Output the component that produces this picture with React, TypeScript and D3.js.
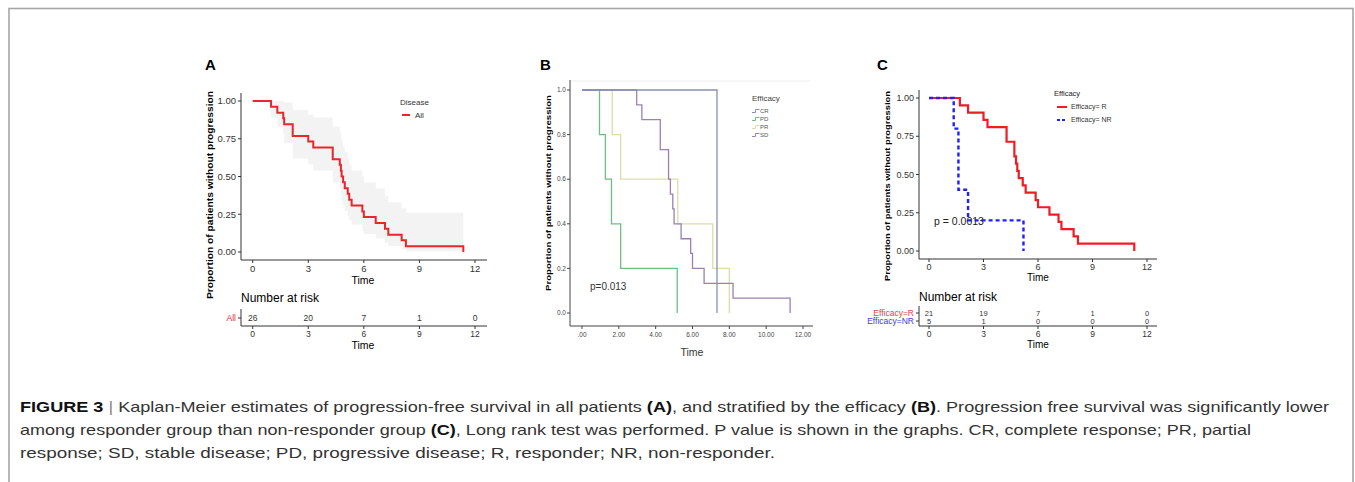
import * as d3 from "d3";

// x ticks shared by panels A and C
const timeTicks = [0, 3, 6, 9, 12];
const propTicks = [0, 0.25, 0.5, 0.75, 1];
const propLabels = ["0.00", "0.25", "0.50", "0.75", "1.00"];

// Panel A: all patients
const allTimes = [0, 0.99, 1.33, 1.65, 1.7, 2.16, 3.0, 3.27, 4.32, 4.7, 4.76, 4.8, 4.88, 4.97, 5.13, 5.21, 5.34, 5.92, 6.0, 6.64, 7.14, 7.32, 8.04, 8.27, 11.37];
const allSurv = [1, 0.962, 0.923, 0.885, 0.846, 0.769, 0.731, 0.692, 0.615, 0.577, 0.538, 0.5, 0.462, 0.423, 0.385, 0.346, 0.308, 0.269, 0.231, 0.192, 0.154, 0.115, 0.077, 0.038, 0];
const allUpper = [1, 1, 1, 1, 0.99, 0.94, 0.91, 0.89, 0.83, 0.8, 0.77, 0.73, 0.7, 0.66, 0.62, 0.58, 0.54, 0.5, 0.46, 0.42, 0.37, 0.33, 0.29, 0.26];
const allLower = [1, 0.89, 0.83, 0.78, 0.72, 0.62, 0.58, 0.54, 0.46, 0.42, 0.38, 0.34, 0.31, 0.27, 0.24, 0.21, 0.18, 0.14, 0.12, 0.09, 0.06, 0.04, 0.02, 0.005];
const allRisk = [26, 20, 7, 1, 0];

// Panel B: by efficacy
const bTicks = [0, 2, 4, 6, 8, 10, 12];
const bTickLabels = [".00", "2.00", "4.00", "6.00", "8.00", "10.00", "12.00"];
const bYTicks = [0, 0.2, 0.4, 0.6, 0.8, 1];
const bYLabels = ["0.0", "0.2", "0.4", "0.6", "0.8", "1.0"];
const crTimes = [0, 7.33];
const crSurv = [1, 0];
const pdTimes = [0, 0.95, 1.27, 1.6, 2.1, 5.17];
const pdSurv = [1, 0.8, 0.6, 0.4, 0.2, 0];
const prTimes = [0, 1.64, 2.1, 5.2, 7.1, 8.0];
const prSurv = [1, 0.8, 0.6, 0.4, 0.2, 0];
const sdTimes = [0, 2.97, 3.25, 4.25, 4.7, 4.8, 4.93, 5.0, 5.38, 5.9, 6.0, 6.63, 8.2, 11.3];
const sdSurv = [1, 0.933, 0.867, 0.733, 0.6, 0.533, 0.467, 0.4, 0.333, 0.267, 0.2, 0.133, 0.067, 0];
const bLegend = ["CR", "PD", "PR", "SD"];

// Panel C: responder vs non-responder
const rTimes = [0, 1.7, 2.15, 3.0, 3.22, 4.27, 4.7, 4.79, 4.86, 4.94, 5.16, 5.32, 5.87, 6.0, 6.63, 7.13, 7.29, 7.96, 8.2, 11.3];
const rSurv = [1, 0.952, 0.905, 0.857, 0.81, 0.714, 0.619, 0.571, 0.524, 0.476, 0.429, 0.381, 0.333, 0.286, 0.238, 0.19, 0.143, 0.095, 0.048, 0];
const nrTimes = [0, 1.36, 1.62, 2.15, 5.2];
const nrSurv = [1, 0.8, 0.4, 0.2, 0];
const rRisk = [21, 19, 7, 1, 0];
const nrRisk = [5, 1, 0, 0, 0];

const Y_TITLE = "Proportion of patients without progression";
const SANS = "'Liberation Sans', Arial, sans-serif";
const AXIS = "#333";

function stepPath(x: d3.ScaleLinear<number, number>, y: d3.ScaleLinear<number, number>, times: number[], surv: number[]) {
    return (
        d3
            .line<number>()
            .x((d) => x(d))
            .y((_, i) => y(surv[i]))
            .curve(d3.curveStepAfter)(times) ?? ""
    );
}

function PanelA() {
    const x = d3.scaleLinear().domain([0, 12]).range([252.7, 475]);
    const y = d3.scaleLinear().domain([0, 1]).range([252, 101]);
    const bandT = [...allTimes.slice(0, -1), allTimes[allTimes.length - 1]];
    const bandIdx = bandT.map((_, i) => Math.min(i, allUpper.length - 1));
    const band =
        d3
            .area<number>()
            .x((i) => x(bandT[i]))
            .y0((i) => y(allLower[bandIdx[i]]))
            .y1((i) => y(allUpper[bandIdx[i]]))
            .curve(d3.curveStepAfter)(bandT.map((_, i) => i)) ?? "";
    return (
        <g fontFamily={SANS}>
            <text x={205} y={70} fontSize={15} fontWeight="bold">A</text>
            <path d={band} fill="#f3f3f3" />
            <path d={stepPath(x, y, allTimes, allSurv)} fill="none" stroke="#e8262d" strokeWidth={2} />
            {/* axes */}
            <line x1={241} x2={241} y1={93} y2={260} stroke={AXIS} strokeWidth={1} />
            <line x1={241} x2={487} y1={260} y2={260} stroke={AXIS} strokeWidth={1} />
            {propTicks.map((v, i) => (
                <g key={v}>
                    <line x1={238} x2={241} y1={y(v)} y2={y(v)} stroke={AXIS} />
                    <text x={236} y={y(v)} dy="0.35em" textAnchor="end" fontSize={9.5} fill="#333">{propLabels[i]}</text>
                </g>
            ))}
            {timeTicks.map((t) => (
                <g key={t}>
                    <line x1={x(t)} x2={x(t)} y1={260} y2={263} stroke={AXIS} />
                    <text x={x(t)} y={272} textAnchor="middle" fontSize={9.5} fill="#333">{t}</text>
                </g>
            ))}
            <text x={363} y={284} textAnchor="middle" fontSize={10.5}>Time</text>
            <text transform="translate(213,195) rotate(-90)" textAnchor="middle" fontSize={8.5} fontWeight="bold" textLength={208} lengthAdjust="spacingAndGlyphs">{Y_TITLE}</text>
            {/* legend */}
            <text x={400} y={105} fontSize={8} fill="#333">Disease</text>
            <line x1={402} x2={410} y1={115} y2={115} stroke="#e8262d" strokeWidth={2} />
            <text x={415} y={115} dy="0.35em" fontSize={8} fill="#333">All</text>
            {/* risk table */}
            <text x={241} y={302} fontSize={12}>Number at risk</text>
            <line x1={241} x2={241} y1={309} y2={326} stroke={AXIS} />
            <line x1={238} x2={241} y1={318} y2={318} stroke={AXIS} />
            <text x={236} y={318} dy="0.35em" textAnchor="end" fontSize={8.5} fill="#e8262d">All</text>
            <line x1={241} x2={487} y1={326} y2={326} stroke={AXIS} />
            {timeTicks.map((t, i) => (
                <g key={t}>
                    <text x={x(t)} y={318} dy="0.35em" textAnchor="middle" fontSize={8.5} fill="#333">{allRisk[i]}</text>
                    <line x1={x(t)} x2={x(t)} y1={326} y2={329} stroke={AXIS} />
                    <text x={x(t)} y={337} textAnchor="middle" fontSize={8.5} fill="#333">{t}</text>
                </g>
            ))}
            <text x={363} y={349} textAnchor="middle" fontSize={10.5}>Time</text>
        </g>
    );
}

const bColors: Record<string, string> = { CR: "#8790b2", PD: "#6cbf84", PR: "#dcdea6", SD: "#9b80b6" };

function PanelB() {
    const x = d3.scaleLinear().domain([0, 12]).range([582, 803]);
    const y = d3.scaleLinear().domain([0, 1]).range([313, 90]);
    const series: [string, number[], number[]][] = [
        ["PR", prTimes, prSurv],
        ["PD", pdTimes, pdSurv],
        ["SD", sdTimes, sdSurv],
        ["CR", crTimes, crSurv],
    ];
    return (
        <g fontFamily={SANS}>
            <text x={540} y={70} fontSize={15} fontWeight="bold">B</text>
            <line x1={570} x2={810} y1={81} y2={81} stroke="#eeeeee" />
            {series.map(([k, t, s]) => (
                <path key={k} d={stepPath(x, y, t, s)} fill="none" stroke={bColors[k]} strokeWidth={1.3} />
            ))}
            <line x1={570} x2={570} y1={80} y2={326} stroke="#444" />
            <line x1={570} x2={813} y1={326} y2={326} stroke="#444" />
            {bYTicks.map((v, i) => (
                <g key={v}>
                    <line x1={567} x2={570} y1={y(v)} y2={y(v)} stroke="#444" />
                    <text x={566} y={y(v)} dy="0.35em" textAnchor="end" fontSize={6.5} fill="#444">{bYLabels[i]}</text>
                </g>
            ))}
            {bTicks.map((t, i) => (
                <g key={t}>
                    <line x1={x(t)} x2={x(t)} y1={326} y2={329} stroke="#444" />
                    <text x={x(t)} y={337} textAnchor="middle" fontSize={6.5} fill="#444">{bTickLabels[i]}</text>
                </g>
            ))}
            <text x={692} y={356} textAnchor="middle" fontSize={10.5} fill="#333">Time</text>
            <text transform="translate(551,193) rotate(-90)" textAnchor="middle" fontSize={8} fontWeight="bold" textLength={196} lengthAdjust="spacingAndGlyphs">{Y_TITLE}</text>
            <text x={590} y={290} fontSize={10} fill="#333">p=0.013</text>
            <text x={752} y={101} fontSize={8} fill="#444">Efficacy</text>
            {bLegend.map((k, i) => (
                <g key={k} transform={`translate(752,${111 + i * 8})`}>
                    <path d="M0,1.5 h3.5 v-3 h4" fill="none" stroke={bColors[k]} strokeWidth={1} />
                    <text x={8} y={0} dy="0.35em" fontSize={6} fill="#555">{k}</text>
                </g>
            ))}
        </g>
    );
}

function PanelC() {
    const x = d3.scaleLinear().domain([0, 12]).range([929, 1147]);
    const y = d3.scaleLinear().domain([0, 1]).range([251, 98]);
    const red = "#ee1c25";
    const blue = "#1f1fff";
    return (
        <g fontFamily={SANS}>
            <text x={877} y={70} fontSize={15} fontWeight="bold">C</text>
            <path d={stepPath(x, y, rTimes, rSurv)} fill="none" stroke={red} strokeWidth={2.2} />
            <path d={stepPath(x, y, nrTimes, nrSurv)} fill="none" stroke={blue} strokeWidth={2.4} strokeDasharray="4,3" />
            <line x1={919} x2={919} y1={90} y2={259} stroke={AXIS} />
            <line x1={919} x2={1157} y1={259} y2={259} stroke={AXIS} />
            {propTicks.map((v, i) => (
                <g key={v}>
                    <line x1={916} x2={919} y1={y(v)} y2={y(v)} stroke={AXIS} />
                    <text x={914} y={y(v)} dy="0.35em" textAnchor="end" fontSize={9} fill="#333">{propLabels[i]}</text>
                </g>
            ))}
            {timeTicks.map((t) => (
                <g key={t}>
                    <line x1={x(t)} x2={x(t)} y1={259} y2={262} stroke={AXIS} />
                    <text x={x(t)} y={269.5} textAnchor="middle" fontSize={9} fill="#333">{t}</text>
                </g>
            ))}
            <text x={1038} y={281} textAnchor="middle" fontSize={10}>Time</text>
            <text transform="translate(890,186) rotate(-90)" textAnchor="middle" fontSize={8} fontWeight="bold" textLength={190} lengthAdjust="spacingAndGlyphs">{Y_TITLE}</text>
            <text x={934} y={225} fontSize={10.5} fill="#222">p = 0.0013</text>
            {/* legend */}
            <text x={1054} y={96} fontSize={7.5} fill="#222">Efficacy</text>
            <line x1={1057} x2={1067} y1={107} y2={107} stroke={red} strokeWidth={2} />
            <text x={1071} y={107} dy="0.35em" fontSize={7} fill="#333">Efficacy= R</text>
            <line x1={1057} x2={1067} y1={120} y2={120} stroke={blue} strokeWidth={2} strokeDasharray="3,2" />
            <text x={1071} y={120} dy="0.35em" fontSize={7} fill="#333">Efficacy= NR</text>
            {/* risk table */}
            <text x={919} y={301} fontSize={12}>Number at risk</text>
            <line x1={919} x2={919} y1={306} y2={326} stroke={AXIS} />
            <line x1={916} x2={919} y1={313} y2={313} stroke={AXIS} />
            <line x1={916} x2={919} y1={321} y2={321} stroke={AXIS} />
            <text x={914} y={313} dy="0.35em" textAnchor="end" fontSize={8.5} fill="#e0434b">Efficacy=R</text>
            <text x={914} y={321} dy="0.35em" textAnchor="end" fontSize={8.5} fill="#3c3cdc">Efficacy=NR</text>
            <line x1={919} x2={1157} y1={326} y2={326} stroke={AXIS} />
            {timeTicks.map((t, i) => (
                <g key={t}>
                    <text x={x(t)} y={313} dy="0.35em" textAnchor="middle" fontSize={7.5} fill="#333">{rRisk[i]}</text>
                    <text x={x(t)} y={321} dy="0.35em" textAnchor="middle" fontSize={7.5} fill="#333">{nrRisk[i]}</text>
                    <line x1={x(t)} x2={x(t)} y1={326} y2={329} stroke={AXIS} />
                    <text x={x(t)} y={336.5} textAnchor="middle" fontSize={8.5} fill="#333">{t}</text>
                </g>
            ))}
            <text x={1038} y={348} textAnchor="middle" fontSize={10}>Time</text>
        </g>
    );
}

function Caption() {
    const font = "'Liberation Sans Narrow', 'Arial Narrow', 'Liberation Sans', Arial, sans-serif";
    return (
        <g fontFamily={font} fontSize={15} fill="#333">
            <text x={20} y={412} textLength={1309} lengthAdjust="spacingAndGlyphs">
                <tspan fontWeight="bold" fill="#111">FIGURE 3</tspan>
                <tspan fill="#888"> | </tspan>
                <tspan>Kaplan-Meier estimates of progression-free survival in all patients </tspan>
                <tspan fontWeight="bold" fill="#111">(A)</tspan>
                <tspan>, and stratified by the efficacy </tspan>
                <tspan fontWeight="bold" fill="#111">(B)</tspan>
                <tspan>. Progression free survival was significantly lower</tspan>
            </text>
            <text x={20} y={435} textLength={1231} lengthAdjust="spacingAndGlyphs">
                <tspan>among responder group than non-responder group </tspan>
                <tspan fontWeight="bold" fill="#111">(C)</tspan>
                <tspan>, Long rank test was performed. P value is shown in the graphs. CR, complete response; PR, partial</tspan>
            </text>
            <text x={20} y={458} textLength={755} lengthAdjust="spacingAndGlyphs">
                response; SD, stable disease; PD, progressive disease; R, responder; NR, non-responder.
            </text>
        </g>
    );
}

export default function App() {
    return (
        <div style={{ position: "absolute", left: 0, top: 0 }}>
            <svg width={1355} height={482} style={{ display: "block", background: "#fff" }}>
                <rect x={9} y={8.5} width={1344} height={500} fill="none" stroke="#a6a6a6" strokeWidth={1.6} />
                <PanelA />
                <PanelB />
                <PanelC />
                <Caption />
            </svg>
        </div>
    );
}
